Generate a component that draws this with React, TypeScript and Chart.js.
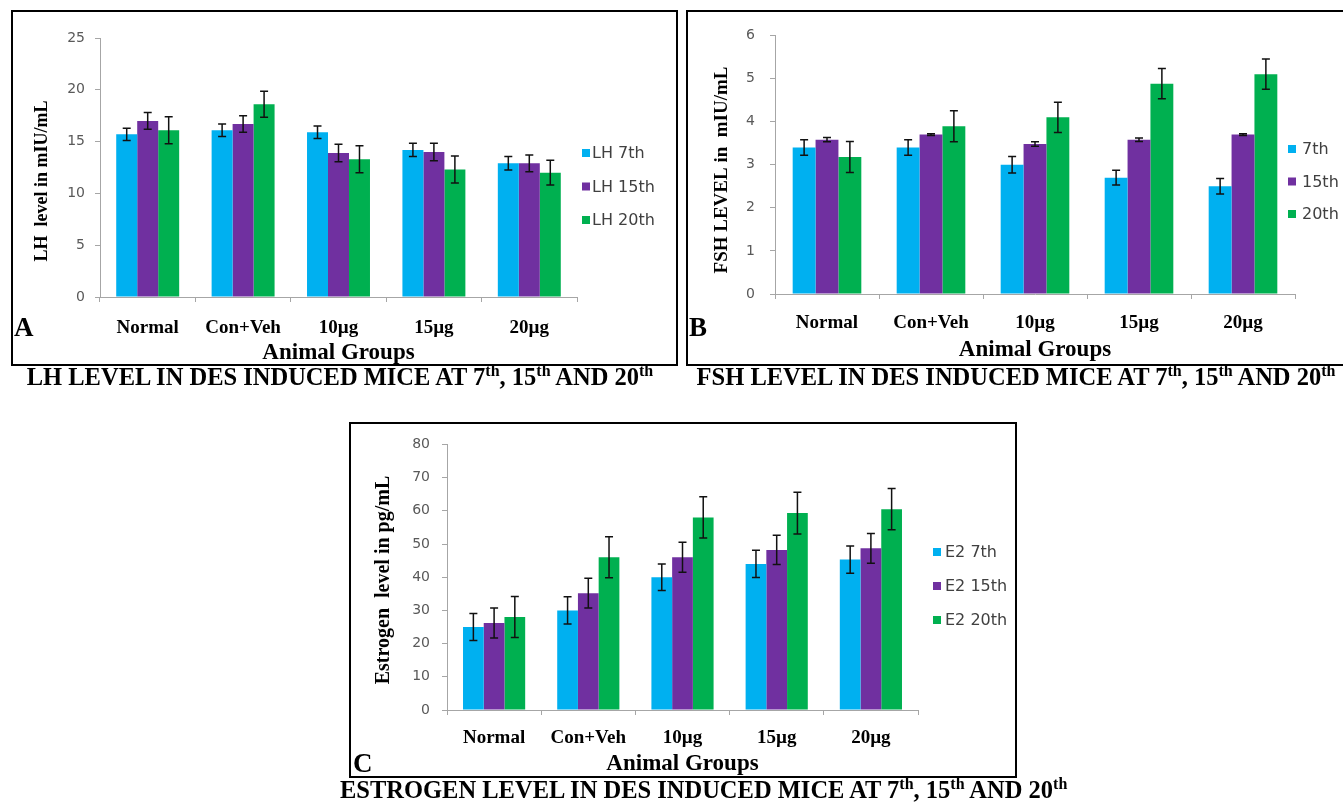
import React, { useEffect, useRef } from 'react';
import { Chart, registerables } from 'chart.js';

Chart.register(...registerables);

// ---------------- DATA ----------------
const categories = ['Normal', 'Con+Veh', '10µg', '15µg', '20µg'];

// Panel A – LH (mIU/mL)
const lhSeriesLabels = ['LH 7th', 'LH 15th', 'LH 20th'];
const lh7th = [15.7, 16.1, 15.9, 14.2, 12.9];
const lh15th = [17.0, 16.7, 13.9, 14.0, 12.9];
const lh20th = [16.1, 18.6, 13.3, 12.3, 12.0];
const lh7thErr = [0.6, 0.6, 0.6, 0.65, 0.65];
const lh15thErr = [0.8, 0.8, 0.85, 0.85, 0.8];
const lh20thErr = [1.3, 1.25, 1.3, 1.3, 1.2];
const lhTicks = [0, 5, 10, 15, 20, 25];

// Panel B – FSH (mIU/mL)
const fshSeriesLabels = ['7th', '15th', '20th'];
const fsh7th = [3.4, 3.4, 3.0, 2.7, 2.5];
const fsh15th = [3.58, 3.7, 3.48, 3.58, 3.7];
const fsh20th = [3.18, 3.89, 4.1, 4.88, 5.1];
const fsh7thErr = [0.18, 0.18, 0.19, 0.17, 0.18];
const fsh15thErr = [0.05, 0.02, 0.05, 0.04, 0.02];
const fsh20thErr = [0.36, 0.36, 0.35, 0.35, 0.35];
const fshTicks = [0, 1, 2, 3, 4, 5, 6];

// Panel C – Estrogen (pg/mL)
const e2SeriesLabels = ['E2 7th', 'E2 15th', 'E2 20th'];
const e27th = [25, 30, 40, 44, 45.3];
const e215th = [26.2, 35.2, 46, 48.2, 48.7];
const e220th = [28, 46, 58, 59.3, 60.5];
const e27thErr = [4.1, 4.1, 4.0, 4.1, 4.1];
const e215thErr = [4.5, 4.5, 4.5, 4.4, 4.5];
const e220thErr = [6.2, 6.2, 6.2, 6.3, 6.2];
const e2Ticks = [0, 10, 20, 30, 40, 50, 60, 70, 80];

const xTitle = 'Animal Groups';

// ---------------- STYLE ----------------
const COLORS = ['#00B0F0', '#7030A0', '#00B050'];
const AXIS_GRAY = '#A6A6A6';
const SERIF = '"Liberation Serif", "Times New Roman", serif';
const SANS = '"DejaVu Sans", "Open Sans", sans-serif';

const errorBarsPlugin = {
  id: 'errorBars',
  afterDatasetsDraw(chart: any) {
    const { ctx } = chart;
    const yScale = chart.scales.y;
    ctx.save();
    ctx.strokeStyle = '#111';
    ctx.lineWidth = 1.5;
    chart.data.datasets.forEach((ds: any, i: number) => {
      const meta = chart.getDatasetMeta(i);
      meta.data.forEach((bar: any, j: number) => {
        const v = ds.data[j];
        const e = ds.errors[j];
        const top = yScale.getPixelForValue(v + e);
        const bot = yScale.getPixelForValue(v - e);
        const x = bar.x;
        const cap = 4;
        ctx.beginPath();
        ctx.moveTo(x, top);
        ctx.lineTo(x, bot);
        ctx.moveTo(x - cap, top);
        ctx.lineTo(x + cap, top);
        ctx.moveTo(x - cap, bot);
        ctx.lineTo(x + cap, bot);
        ctx.stroke();
      });
    });
    ctx.restore();
  },
};

const sideLegendPlugin = {
  id: 'sideLegend',
  afterDraw(chart: any, _args: any, opts: any) {
    const { ctx } = chart;
    ctx.save();
    ctx.font = opts.font;
    ctx.textBaseline = 'middle';
    ctx.textAlign = 'left';
    chart.data.datasets.forEach((ds: any, i: number) => {
      const cy = opts.y + i * opts.spacing;
      ctx.fillStyle = ds.backgroundColor;
      ctx.fillRect(opts.boxX, cy - opts.box / 2, opts.box, opts.box);
      ctx.fillStyle = opts.color;
      ctx.fillText(ds.label, opts.textX, cy + 1);
    });
    ctx.restore();
  },
};

const yTitlePlugin = {
  id: 'yTitle',
  afterDraw(chart: any, _args: any, opts: any) {
    const { ctx } = chart;
    ctx.save();
    ctx.translate(opts.x, opts.y);
    ctx.rotate(-Math.PI / 2);
    ctx.font = opts.font;
    ctx.fillStyle = '#000';
    ctx.textAlign = 'center';
    ctx.textBaseline = 'middle';
    ctx.fillText(opts.text, 0, 0);
    ctx.restore();
  },
};

type PanelSpec = {
  canvas: { left: number; top: number; width: number; height: number };
  area: { left: number; right: number; top: number; bottom: number };
  ticks: number[];
  seriesLabels: string[];
  values: number[][];
  errors: number[][];
  yTitle: string;
  yTitleFont: number;
  yTitlePos: { x: number; y: number };
  yTickPadding: number;
  xLabelCenter: number;
  xTitleCenter: number;
  legend: { boxX: number; textX: number; y: number; spacing: number };
};

const CAT_FONT = 19;
const XT_FONT = 23;

function buildConfig(p: PanelSpec) {
  const { canvas: c, area: a } = p;
  const areaLeft = a.left - c.left;
  const areaRight = a.right - c.left;
  const areaTop = a.top - c.top;
  const areaBottom = a.bottom - c.top;
  const tickLen = 5;
  const xPad = p.xLabelCenter - a.bottom - tickLen - (CAT_FONT * 1.2) / 2;
  const xtPad = c.top + c.height - p.xTitleCenter - (XT_FONT * 1.2) / 2;
  return {
    type: 'bar',
    data: {
      labels: categories,
      datasets: p.values.map((vals, i) => ({
        label: p.seriesLabels[i],
        data: vals,
        errors: p.errors[i],
        backgroundColor: COLORS[i],
        borderWidth: 0,
        categoryPercentage: 0.66,
        barPercentage: 1,
      })),
    },
    options: {
      responsive: false,
      animation: false,
      devicePixelRatio: 1,
      events: [],
      layout: { padding: { left: 0, top: areaTop, right: c.width - areaRight, bottom: 0 } },
      plugins: {
        legend: { display: false },
        tooltip: { enabled: false },
        sideLegend: {
          boxX: p.legend.boxX - c.left,
          textX: p.legend.textX - c.left,
          y: p.legend.y - c.top,
          spacing: p.legend.spacing,
          box: 8,
          font: `16px ${SANS}`,
          color: '#404040',
        },
        yTitle: {
          text: p.yTitle,
          x: p.yTitlePos.x - c.left,
          y: p.yTitlePos.y - c.top,
          font: `bold ${p.yTitleFont}px ${SERIF}`,
        },
      },
      scales: {
        x: {
          grid: {
            display: true,
            drawOnChartArea: false,
            drawTicks: true,
            tickLength: tickLen,
            color: AXIS_GRAY,
            offset: true,
          },
          border: { display: true, color: AXIS_GRAY, width: 1 },
          ticks: {
            font: { family: SERIF, size: CAT_FONT, weight: 'bold' },
            color: '#000',
            padding: xPad,
            maxRotation: 0,
            autoSkip: false,
          },
          title: {
            display: true,
            text: xTitle,
            font: { family: SERIF, size: XT_FONT, weight: 'bold' },
            color: '#000',
            padding: { top: 0, bottom: xtPad },
          },
          afterFit: (s: any) => {
            s.height = c.height - areaBottom;
          },
        },
        y: {
          min: p.ticks[0],
          max: p.ticks[p.ticks.length - 1],
          ticks: {
            stepSize: p.ticks[1] - p.ticks[0],
            font: { family: SANS, size: 14 },
            color: '#595959',
            padding: p.yTickPadding,
          },
          grid: {
            display: true,
            drawOnChartArea: false,
            drawTicks: true,
            tickLength: tickLen,
            color: AXIS_GRAY,
          },
          border: { display: true, color: AXIS_GRAY, width: 1 },
          afterFit: (s: any) => {
            s.width = areaLeft;
          },
        },
      },
    },
    plugins: [errorBarsPlugin, sideLegendPlugin, yTitlePlugin],
  };
}

const panelA: PanelSpec = {
  canvas: { left: 13, top: 12, width: 662, height: 370 },
  area: { left: 100, right: 577, top: 38, bottom: 297 },
  ticks: lhTicks,
  seriesLabels: lhSeriesLabels,
  values: [lh7th, lh15th, lh20th],
  errors: [lh7thErr, lh15thErr, lh20thErr],
  yTitle: 'LH  level in mIU/mL',
  yTitleFont: 18,
  yTitlePos: { x: 42, y: 181 },
  yTickPadding: 10,
  xLabelCenter: 328,
  xTitleCenter: 353,
  legend: { boxX: 582, textX: 592, y: 153, spacing: 33.5 },
};

const panelB: PanelSpec = {
  canvas: { left: 688, top: 12, width: 655, height: 370 },
  area: { left: 775, right: 1295, top: 34, bottom: 294 },
  ticks: fshTicks,
  seriesLabels: fshSeriesLabels,
  values: [fsh7th, fsh15th, fsh20th],
  errors: [fsh7thErr, fsh15thErr, fsh20thErr],
  yTitle: 'FSH LEVEL in  mIU/mL',
  yTitleFont: 19,
  yTitlePos: { x: 722, y: 170 },
  yTickPadding: 15,
  xLabelCenter: 323,
  xTitleCenter: 350,
  legend: { boxX: 1288, textX: 1302, y: 149, spacing: 32.5 },
};

const panelC: PanelSpec = {
  canvas: { left: 351, top: 424, width: 663, height: 379 },
  area: { left: 447, right: 918, top: 443, bottom: 710 },
  ticks: e2Ticks,
  seriesLabels: e2SeriesLabels,
  values: [e27th, e215th, e220th],
  errors: [e27thErr, e215thErr, e220thErr],
  yTitle: 'Estrogen  level in pg/mL',
  yTitleFont: 20,
  yTitlePos: { x: 384, y: 580 },
  yTickPadding: 12,
  xLabelCenter: 738,
  xTitleCenter: 764,
  legend: { boxX: 933, textX: 945, y: 552, spacing: 34 },
};

function ChartPanel({ spec }: { spec: PanelSpec }) {
  const ref = useRef<HTMLCanvasElement | null>(null);
  useEffect(() => {
    if (!ref.current) return;
    const chart = new Chart(ref.current, buildConfig(spec) as any);
    return () => chart.destroy();
  }, [spec]);
  const c = spec.canvas;
  return (
    <canvas
      ref={ref}
      width={c.width}
      height={c.height}
      style={{ position: 'absolute', left: c.left, top: c.top, width: c.width, height: c.height }}
    />
  );
}

const boxStyle = (left: number, top: number, width: number, height: number): React.CSSProperties => ({
  position: 'absolute',
  left,
  top,
  width,
  height,
  border: '2px solid #000',
  boxSizing: 'border-box',
});

const letterStyle = (left: number, centerY: number): React.CSSProperties => ({
  position: 'absolute',
  left,
  top: centerY - 15,
  lineHeight: '30px',
  font: `bold 27px ${SERIF}`,
  color: '#000',
});

const capStyle = (left: number, width: number, centerY: number): React.CSSProperties => ({
  position: 'absolute',
  left,
  width,
  top: centerY - 14,
  lineHeight: '28px',
  textAlign: 'center',
  whiteSpace: 'nowrap',
  font: `bold 24.5px ${SERIF}`,
  color: '#000',
});

const supStyle: React.CSSProperties = {
  fontSize: '16px',
  verticalAlign: 'baseline',
  position: 'relative',
  top: '-9px',
};

function Caption({ prefix, style }: { prefix: string; style: React.CSSProperties }) {
  return (
    <div style={style}>
      {prefix} LEVEL IN DES INDUCED MICE AT 7<sup style={supStyle}>th</sup>, 15<sup style={supStyle}>th</sup> AND 20
      <sup style={supStyle}>th</sup>
    </div>
  );
}

export default function App() {
  return (
    <div
      style={{
        position: 'absolute',
        left: 0,
        top: 0,
        width: 1343,
        height: 803,
        overflow: 'hidden',
        background: '#fff',
      }}
    >
      <div style={boxStyle(11, 10, 667, 356)} />
      <div style={boxStyle(686, 10, 700, 356)} />
      <div style={boxStyle(349, 422, 668, 356)} />
      <ChartPanel spec={panelA} />
      <ChartPanel spec={panelB} />
      <ChartPanel spec={panelC} />
      <div style={letterStyle(14, 327)}>A</div>
      <div style={letterStyle(689, 327)}>B</div>
      <div style={letterStyle(353, 763)}>C</div>
      <Caption prefix="LH" style={capStyle(0, 680, 377)} />
      <Caption prefix="FSH" style={capStyle(686, 660, 377)} />
      <Caption prefix="ESTROGEN" style={capStyle(340, 680, 790)} />
    </div>
  );
}
